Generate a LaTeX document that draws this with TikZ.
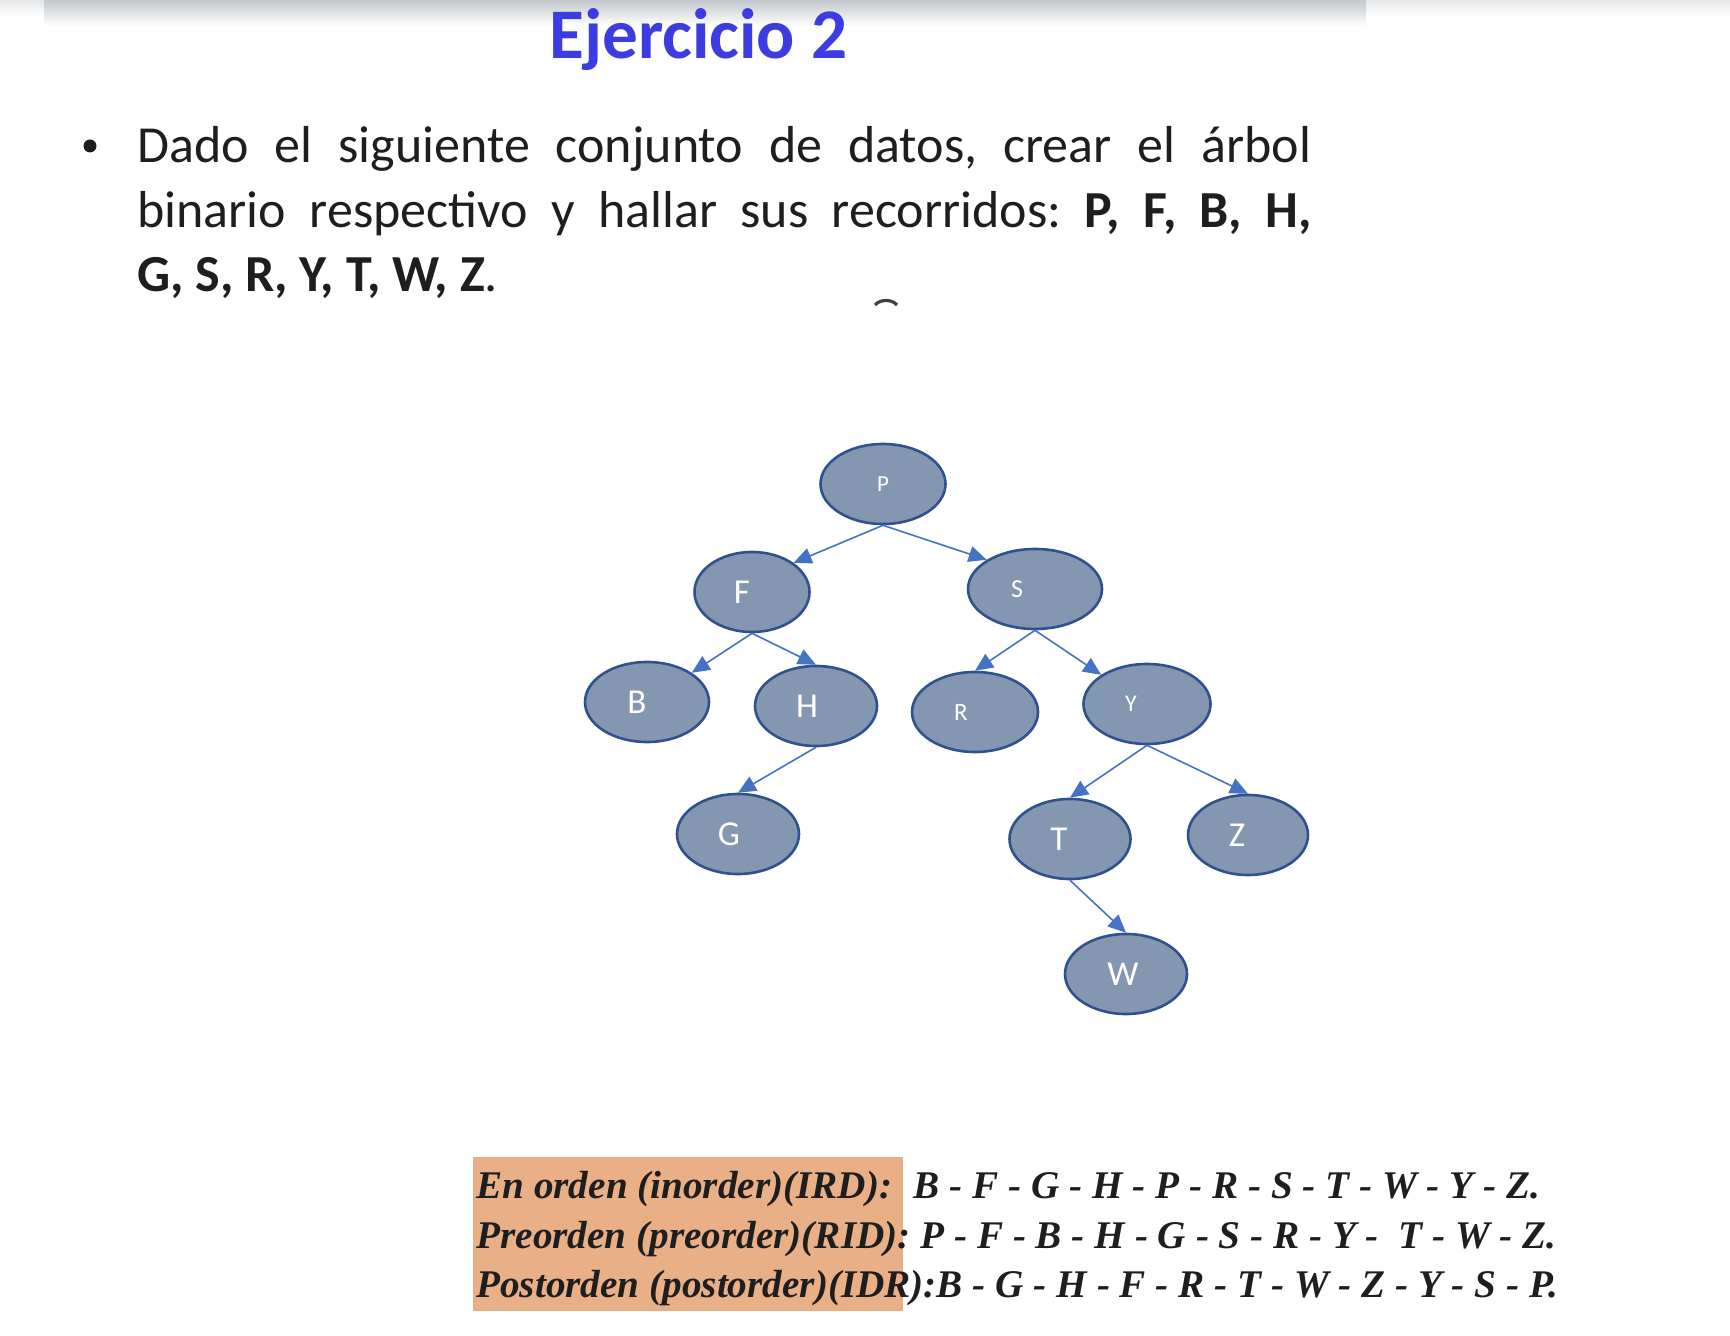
\documentclass[tikz,border=0pt]{standalone}
\usepackage{fontspec}
\setmainfont{Carlito}
\newfontfamily\trvfont{Liberation Serif}
\usetikzlibrary{arrows.meta,shapes.geometric}
\definecolor{arbFill}{HTML}{8497B0}
\definecolor{arbLine}{HTML}{2F528F}
\definecolor{arbArrow}{HTML}{4472C4}
\definecolor{ejTitle}{HTML}{3C3CE0}
\definecolor{ejText}{HTML}{1E1E1E}
\definecolor{ejBar}{HTML}{C4C8CD}
\definecolor{trvOrange}{HTML}{E9AF86}
\frenchspacing
\tikzset{
  arb node/.style={ellipse, draw=arbLine, fill=arbFill, line width=1.3pt, inner sep=0pt,
    minimum width=62pt, minimum height=40pt, text=white,
    execute at begin node={\hspace*{#1}}},
  arb node/.default=-10pt,
  arb small/.style={arb node=#1, font=\fontsize{11.5}{13}\selectfont},
  arb small/.default=-10pt,
  arb big/.style={arb node=#1, font=\fontsize{17.5}{20}\selectfont},
  arb big/.default=-10pt,
  arb edge/.style={draw=arbArrow, line width=0.8pt, -{Triangle[length=9pt,width=8pt]}},
  ej title/.style={anchor=base west, inner sep=0pt, text=ejTitle, font=\fontsize{35.6}{40}\selectfont\bfseries},
  ej body/.style={anchor=base west, inner sep=0pt, text width=587pt, align=justify, text=ejText,
    font=\fontsize{26}{32.25}\selectfont},
  trv text/.style={anchor=base west, inner sep=0pt, text=ejText,
    font=\trvfont\bfseries\itshape\fontsize{19.6}{24}\selectfont},
}
\begin{document}
\begin{tikzpicture}[x=0.5pt, y=-0.5pt]
  \useasboundingbox (0,0) rectangle (1730,1336);

  % slide top shadow
  \shade[top color=ejBar!45, bottom color=white] (0,0) rectangle (1730,16);
  \shade[top color=ejBar, bottom color=white] (44,0) rectangle (1366,26);

  % title and statement
  \node[ej title] (titulo) at (549,59) {Ejercicio 2};
  \fill[ejText] (90,146) circle (3.25pt);
  \node[ej body] (enunciado) at (137,163)
    {Dado el siguiente conjunto de datos, crear el árbol\linebreak
     binario respectivo y hallar sus recorridos: \textbf{P, F, B, H,}\linebreak
     \textbf{G, S, R, Y, T, W, Z}.};
  \draw[gray!50!black, line width=1.6pt] (875,305) .. controls (880,299) and (892,299) .. (897,305);

  % tree
  \node[arb small=0pt, minimum width=62.5pt] (P) at (883,484) {P};
  \node[arb big, minimum width=57.5pt] (F) at (752,592) {F};
  \node[arb small=-18pt, minimum width=67pt, font=\fontsize{13}{15}\selectfont] (S) at (1035,589) {S};
  \node[arb big] (B) at (647,702) {B};
  \node[arb big=-9pt, minimum width=61pt] (H) at (816,706) {H};
  \node[arb small=-14pt, minimum width=63pt, font=\fontsize{12.5}{15}\selectfont] (R) at (975,712) {R};
  \node[arb small=-16pt, minimum width=63.5pt, font=\fontsize{12}{15}\selectfont] (Y) at (1147,704) {Y};
  \node[arb big=-9pt, minimum width=61pt] (G) at (738,834) {G};
  \node[arb big=-11pt, minimum width=60.5pt] (T) at (1070,839) {T};
  \node[arb big=-11pt, minimum width=60pt] (Z) at (1248,835) {Z};
  \node[arb big=-3pt, minimum width=61pt] (W) at (1126,974) {W};

  \foreach \a/\b/\c in {P/F/north east, P/S/north west, F/B/north east, F/H/north,
                        S/R/north, S/Y/north west, H/G/north, Y/T/north, Y/Z/north, T/W/north}
    \draw[arb edge] (\a.south) -- (\b.\c);

  % traversals
  \fill[trvOrange] (473,1157) rectangle (903,1311);
  \node[trv text] (inorden) at (476,1198)
    {En orden (inorder)(IRD):\hspace{0.55em}B - F - G - H - P - R - S - T - W - Y - Z.};
  \node[trv text] (preorden) at (476,1248)
    {Preorden (preorder)(RID): P - F - B - H - G - S - R - Y - \ T - W - Z.};
  \node[trv text] (postorden) at (476,1297)
    {Postorden (postorder)(IDR):B - G - H - F - R - T - W - Z - Y - S - P.};
\end{tikzpicture}
\end{document}
